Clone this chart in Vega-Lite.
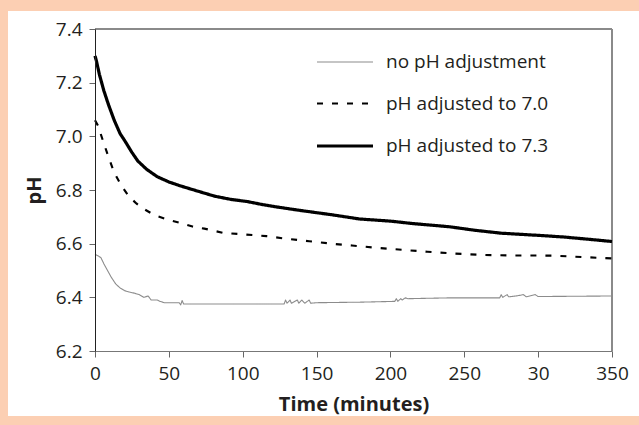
{
  "$schema": "https://vega.github.io/schema/vega-lite/v6.json",
  "width": 517,
  "height": 322,
  "padding": {"left": 7, "top": 11, "right": 0, "bottom": 9},
  "autosize": {"type": "pad"},
  "background": "#FCCFB3",
  "data": {
    "values": [
      {"t": 0, "pH": 6.56, "s": "no pH adjustment"},
      {"t": 2, "pH": 6.555, "s": "no pH adjustment"},
      {"t": 4, "pH": 6.548, "s": "no pH adjustment"},
      {"t": 6, "pH": 6.525, "s": "no pH adjustment"},
      {"t": 8, "pH": 6.505, "s": "no pH adjustment"},
      {"t": 11, "pH": 6.475, "s": "no pH adjustment"},
      {"t": 14, "pH": 6.45, "s": "no pH adjustment"},
      {"t": 17, "pH": 6.435, "s": "no pH adjustment"},
      {"t": 20, "pH": 6.425, "s": "no pH adjustment"},
      {"t": 23, "pH": 6.42, "s": "no pH adjustment"},
      {"t": 27, "pH": 6.415, "s": "no pH adjustment"},
      {"t": 30, "pH": 6.41, "s": "no pH adjustment"},
      {"t": 33, "pH": 6.4, "s": "no pH adjustment"},
      {"t": 36, "pH": 6.405, "s": "no pH adjustment"},
      {"t": 38, "pH": 6.39, "s": "no pH adjustment"},
      {"t": 42, "pH": 6.39, "s": "no pH adjustment"},
      {"t": 44, "pH": 6.385, "s": "no pH adjustment"},
      {"t": 47, "pH": 6.38, "s": "no pH adjustment"},
      {"t": 57, "pH": 6.38, "s": "no pH adjustment"},
      {"t": 58, "pH": 6.372, "s": "no pH adjustment"},
      {"t": 59, "pH": 6.388, "s": "no pH adjustment"},
      {"t": 60, "pH": 6.375, "s": "no pH adjustment"},
      {"t": 128, "pH": 6.375, "s": "no pH adjustment"},
      {"t": 129, "pH": 6.39, "s": "no pH adjustment"},
      {"t": 130, "pH": 6.378, "s": "no pH adjustment"},
      {"t": 132, "pH": 6.39, "s": "no pH adjustment"},
      {"t": 133, "pH": 6.378, "s": "no pH adjustment"},
      {"t": 137, "pH": 6.39, "s": "no pH adjustment"},
      {"t": 138, "pH": 6.378, "s": "no pH adjustment"},
      {"t": 140, "pH": 6.39, "s": "no pH adjustment"},
      {"t": 142, "pH": 6.378, "s": "no pH adjustment"},
      {"t": 145, "pH": 6.39, "s": "no pH adjustment"},
      {"t": 146, "pH": 6.378, "s": "no pH adjustment"},
      {"t": 150, "pH": 6.38, "s": "no pH adjustment"},
      {"t": 180, "pH": 6.382, "s": "no pH adjustment"},
      {"t": 203, "pH": 6.385, "s": "no pH adjustment"},
      {"t": 204, "pH": 6.395, "s": "no pH adjustment"},
      {"t": 205, "pH": 6.385, "s": "no pH adjustment"},
      {"t": 207, "pH": 6.395, "s": "no pH adjustment"},
      {"t": 208, "pH": 6.39, "s": "no pH adjustment"},
      {"t": 210, "pH": 6.398, "s": "no pH adjustment"},
      {"t": 212, "pH": 6.395, "s": "no pH adjustment"},
      {"t": 240, "pH": 6.398, "s": "no pH adjustment"},
      {"t": 274, "pH": 6.398, "s": "no pH adjustment"},
      {"t": 275, "pH": 6.41, "s": "no pH adjustment"},
      {"t": 276, "pH": 6.4, "s": "no pH adjustment"},
      {"t": 279, "pH": 6.41, "s": "no pH adjustment"},
      {"t": 280, "pH": 6.402, "s": "no pH adjustment"},
      {"t": 285, "pH": 6.405, "s": "no pH adjustment"},
      {"t": 290, "pH": 6.41, "s": "no pH adjustment"},
      {"t": 292, "pH": 6.402, "s": "no pH adjustment"},
      {"t": 298, "pH": 6.41, "s": "no pH adjustment"},
      {"t": 300, "pH": 6.403, "s": "no pH adjustment"},
      {"t": 350, "pH": 6.405, "s": "no pH adjustment"},

      {"t": 0, "pH": 7.06, "s": "pH adjusted to 7.0"},
      {"t": 2, "pH": 7.04, "s": "pH adjusted to 7.0"},
      {"t": 5, "pH": 6.99, "s": "pH adjusted to 7.0"},
      {"t": 9, "pH": 6.925, "s": "pH adjusted to 7.0"},
      {"t": 13, "pH": 6.865, "s": "pH adjusted to 7.0"},
      {"t": 18, "pH": 6.815, "s": "pH adjusted to 7.0"},
      {"t": 23, "pH": 6.776, "s": "pH adjusted to 7.0"},
      {"t": 28, "pH": 6.75, "s": "pH adjusted to 7.0"},
      {"t": 32, "pH": 6.733, "s": "pH adjusted to 7.0"},
      {"t": 40, "pH": 6.707, "s": "pH adjusted to 7.0"},
      {"t": 49, "pH": 6.69, "s": "pH adjusted to 7.0"},
      {"t": 58, "pH": 6.677, "s": "pH adjusted to 7.0"},
      {"t": 66, "pH": 6.664, "s": "pH adjusted to 7.0"},
      {"t": 74, "pH": 6.656, "s": "pH adjusted to 7.0"},
      {"t": 87, "pH": 6.64, "s": "pH adjusted to 7.0"},
      {"t": 100, "pH": 6.635, "s": "pH adjusted to 7.0"},
      {"t": 116, "pH": 6.628, "s": "pH adjusted to 7.0"},
      {"t": 130, "pH": 6.618, "s": "pH adjusted to 7.0"},
      {"t": 145, "pH": 6.609, "s": "pH adjusted to 7.0"},
      {"t": 160, "pH": 6.6, "s": "pH adjusted to 7.0"},
      {"t": 174, "pH": 6.593, "s": "pH adjusted to 7.0"},
      {"t": 190, "pH": 6.585, "s": "pH adjusted to 7.0"},
      {"t": 208, "pH": 6.577, "s": "pH adjusted to 7.0"},
      {"t": 225, "pH": 6.57, "s": "pH adjusted to 7.0"},
      {"t": 244, "pH": 6.563, "s": "pH adjusted to 7.0"},
      {"t": 262, "pH": 6.558, "s": "pH adjusted to 7.0"},
      {"t": 281, "pH": 6.556, "s": "pH adjusted to 7.0"},
      {"t": 300, "pH": 6.556, "s": "pH adjusted to 7.0"},
      {"t": 312, "pH": 6.555, "s": "pH adjusted to 7.0"},
      {"t": 330, "pH": 6.55, "s": "pH adjusted to 7.0"},
      {"t": 350, "pH": 6.545, "s": "pH adjusted to 7.0"},

      {"t": 0, "pH": 7.3, "s": "pH adjusted to 7.3"},
      {"t": 1, "pH": 7.28, "s": "pH adjusted to 7.3"},
      {"t": 3, "pH": 7.23, "s": "pH adjusted to 7.3"},
      {"t": 6, "pH": 7.17, "s": "pH adjusted to 7.3"},
      {"t": 9, "pH": 7.12, "s": "pH adjusted to 7.3"},
      {"t": 13, "pH": 7.06, "s": "pH adjusted to 7.3"},
      {"t": 17, "pH": 7.01, "s": "pH adjusted to 7.3"},
      {"t": 20, "pH": 6.985, "s": "pH adjusted to 7.3"},
      {"t": 25, "pH": 6.94, "s": "pH adjusted to 7.3"},
      {"t": 29, "pH": 6.908, "s": "pH adjusted to 7.3"},
      {"t": 35, "pH": 6.877, "s": "pH adjusted to 7.3"},
      {"t": 42, "pH": 6.85, "s": "pH adjusted to 7.3"},
      {"t": 50, "pH": 6.83, "s": "pH adjusted to 7.3"},
      {"t": 58, "pH": 6.815, "s": "pH adjusted to 7.3"},
      {"t": 70, "pH": 6.795, "s": "pH adjusted to 7.3"},
      {"t": 81, "pH": 6.777, "s": "pH adjusted to 7.3"},
      {"t": 92, "pH": 6.765, "s": "pH adjusted to 7.3"},
      {"t": 103, "pH": 6.757, "s": "pH adjusted to 7.3"},
      {"t": 114, "pH": 6.745, "s": "pH adjusted to 7.3"},
      {"t": 124, "pH": 6.736, "s": "pH adjusted to 7.3"},
      {"t": 140, "pH": 6.723, "s": "pH adjusted to 7.3"},
      {"t": 160, "pH": 6.708, "s": "pH adjusted to 7.3"},
      {"t": 179, "pH": 6.692, "s": "pH adjusted to 7.3"},
      {"t": 200, "pH": 6.684, "s": "pH adjusted to 7.3"},
      {"t": 215, "pH": 6.675, "s": "pH adjusted to 7.3"},
      {"t": 240, "pH": 6.663, "s": "pH adjusted to 7.3"},
      {"t": 257, "pH": 6.65, "s": "pH adjusted to 7.3"},
      {"t": 275, "pH": 6.639, "s": "pH adjusted to 7.3"},
      {"t": 300, "pH": 6.631, "s": "pH adjusted to 7.3"},
      {"t": 317, "pH": 6.625, "s": "pH adjusted to 7.3"},
      {"t": 335, "pH": 6.616, "s": "pH adjusted to 7.3"},
      {"t": 350, "pH": 6.608, "s": "pH adjusted to 7.3"}
    ]
  },
  "layer": [
    {
      "mark": {"type": "rect", "fill": "white"},
      "encoding": {
        "x": {"datum": -58.9, "type": "quantitative", "scale": {"domain": [0, 350], "nice": false, "zero": false}, "title": "Time (minutes)",
              "axis": {"zindex": 1, "values": [0, 50, 100, 150, 200, 250, 300, 350], "labelExpr": "datum.value == 300 ? '30' : datum.label"}},
        "x2": {"datum": 369},
        "y": {"datum": 5.958, "type": "quantitative", "scale": {"domain": [6.2, 7.4], "nice": false, "zero": false}, "title": "pH",
              "axis": {"zindex": 1, "values": [6.2, 6.4, 6.6, 6.8, 7.0, 7.2, 7.4], "format": ".1f"}},
        "y2": {"datum": 7.467}
      }
    },
    {
      "mark": {"type": "rule", "color": "#8a8a8a", "strokeWidth": 1.5},
      "encoding": {
        "x": {"datum": 0, "type": "quantitative", "title": "Time (minutes)"},
        "x2": {"datum": 350},
        "y": {"datum": 7.4, "type": "quantitative", "title": "pH"}
      }
    },
    {
      "mark": {"type": "rule", "color": "#8a8a8a", "strokeWidth": 1.5},
      "encoding": {
        "x": {"datum": 350, "type": "quantitative", "title": "Time (minutes)"},
        "y": {"datum": 6.2, "type": "quantitative", "title": "pH"},
        "y2": {"datum": 7.4}
      }
    },
    {
      "mark": {"type": "line", "strokeCap": "butt", "strokeJoin": "round"},
      "encoding": {
        "x": {"field": "t", "type": "quantitative", "title": "Time (minutes)"},
        "y": {"field": "pH", "type": "quantitative", "title": "pH"},
        "color": {"field": "s", "type": "nominal",
                  "scale": {"domain": ["no pH adjustment", "pH adjusted to 7.0", "pH adjusted to 7.3"], "range": ["#8c8c8c", "#000000", "#000000"]},
                  "legend": {"orient": "none", "legendX": 220, "legendY": 4, "title": null, "symbolType": "stroke", "symbolSize": 3136, "labelFontSize": 19, "labelColor": "#231f20", "labelOffset": 11, "labelLimit": 400, "rowPadding": 2, "padding": 0, "labelFont": "Open Sans"}},
        "strokeDash": {"field": "s", "type": "nominal",
                  "scale": {"domain": ["no pH adjustment", "pH adjusted to 7.0", "pH adjusted to 7.3"], "range": [[1, 0], [6, 9], [1, 0]]}},
        "strokeWidth": {"field": "s", "type": "nominal",
                  "scale": {"domain": ["no pH adjustment", "pH adjusted to 7.0", "pH adjusted to 7.3"], "range": [1.1, 3.2, 5]}},
        "order": {"field": "t", "type": "quantitative"}
      }
    }
  ],
  "config": {
    "font": "Open Sans",
    "view": {"stroke": null},
    "axis": {"grid": false, "labelFontSize": 19, "labelColor": "#231f20", "labelFont": "Open Sans", "titleFont": "Open Sans", "titleFontSize": 20, "titleFontWeight": "bold", "titleColor": "#231f20", "tickSize": 6, "tickColor": "#666", "domainColor": "#777"},
    "axisX": {"labelPadding": 7, "titlePadding": 11, "labelFlush": false},
    "axisY": {"domainColor": "#222", "labelPadding": 7, "titlePadding": 11}
  }
}
